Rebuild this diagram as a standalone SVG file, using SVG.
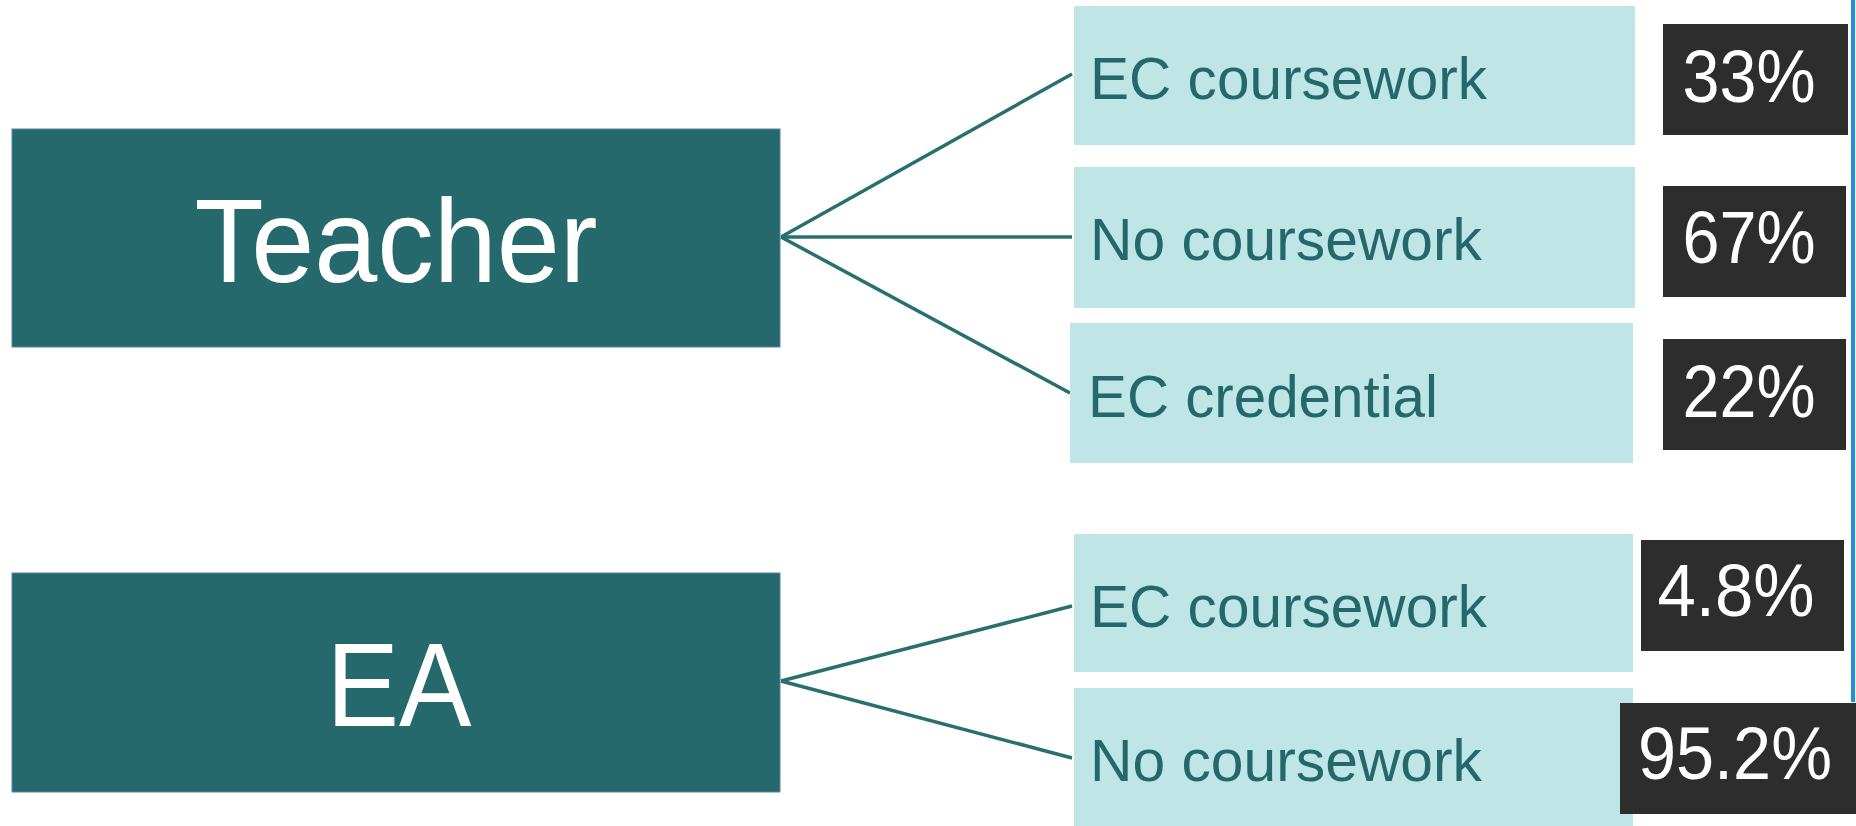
<svg xmlns="http://www.w3.org/2000/svg" width="1856" height="826" viewBox="0 0 1856 826">
<style>
.main{fill:#25696D;stroke:#5B82A8;stroke-width:1}
.mainText{fill:#FFFFFF;font-family:"Liberation Sans",Arial,sans-serif;font-size:118px;text-anchor:middle}
.sub{fill:#C0E5E6}
.subText{fill:#24686C;font-family:"Liberation Sans",Arial,sans-serif;font-size:59px}
.pct{fill:#2D2D2D}
.pctText{fill:#FFFFFF;font-family:"Liberation Sans",Arial,sans-serif;font-size:74px;text-anchor:middle}
.conn{stroke:#2A6F70;stroke-width:3.5;fill:none}
</style>
<rect x="0" y="0" width="1856" height="826" fill="#FFFFFF"/>
<line x1="1853" y1="0" x2="1853" y2="702" stroke="#1E8FE0" stroke-width="4"/>
<g id="connectors">
<line class="conn" x1="781" y1="237" x2="1072" y2="74"/>
<line class="conn" x1="781" y1="237" x2="1072" y2="237"/>
<line class="conn" x1="781" y1="237" x2="1070" y2="393"/>
<line class="conn" x1="781" y1="681" x2="1072" y2="606"/>
<line class="conn" x1="781" y1="681" x2="1072" y2="758"/>
</g>
<g id="teacher">
<rect class="main" x="12" y="129" width="768" height="218"/>
<text class="mainText" x="396" y="282" textLength="403" lengthAdjust="spacingAndGlyphs">Teacher</text>
</g>
<g id="ea">
<rect class="main" x="12" y="573" width="768" height="219"/>
<text class="mainText" x="399" y="726" textLength="145" lengthAdjust="spacingAndGlyphs">EA</text>
</g>
<g id="t-ec-coursework">
<rect class="sub" x="1074" y="6" width="561" height="139"/>
<text class="subText" x="1090" y="99" textLength="397" lengthAdjust="spacingAndGlyphs">EC coursework</text>
</g>
<g id="t-no-coursework">
<rect class="sub" x="1074" y="167" width="561" height="141"/>
<text class="subText" x="1090" y="260" textLength="392" lengthAdjust="spacingAndGlyphs">No coursework</text>
</g>
<g id="t-ec-credential">
<rect class="sub" x="1070" y="323" width="563" height="140"/>
<text class="subText" x="1088" y="417" textLength="350" lengthAdjust="spacingAndGlyphs">EC credential</text>
</g>
<g id="ea-ec-coursework">
<rect class="sub" x="1074" y="534" width="559" height="138"/>
<text class="subText" x="1090" y="627" textLength="397" lengthAdjust="spacingAndGlyphs">EC coursework</text>
</g>
<g id="ea-no-coursework">
<rect class="sub" x="1074" y="688" width="559" height="138"/>
<text class="subText" x="1090" y="781" textLength="392" lengthAdjust="spacingAndGlyphs">No coursework</text>
</g>
<g id="p33">
<rect class="pct" x="1663" y="24" width="185" height="111"/>
<text class="pctText" x="1749" y="102" textLength="133" lengthAdjust="spacingAndGlyphs">33%</text>
</g>
<g id="p67">
<rect class="pct" x="1663" y="186" width="183" height="111"/>
<text class="pctText" x="1749" y="263" textLength="133" lengthAdjust="spacingAndGlyphs">67%</text>
</g>
<g id="p22">
<rect class="pct" x="1663" y="339" width="183" height="111"/>
<text class="pctText" x="1749" y="417" textLength="133" lengthAdjust="spacingAndGlyphs">22%</text>
</g>
<g id="p48">
<rect class="pct" x="1641" y="540" width="203" height="111"/>
<text class="pctText" x="1736" y="616" textLength="157" lengthAdjust="spacingAndGlyphs">4.8%</text>
</g>
<g id="p952">
<rect class="pct" x="1620" y="703" width="236" height="111"/>
<text class="pctText" x="1735" y="779" textLength="194" lengthAdjust="spacingAndGlyphs">95.2%</text>
</g>
</svg>
